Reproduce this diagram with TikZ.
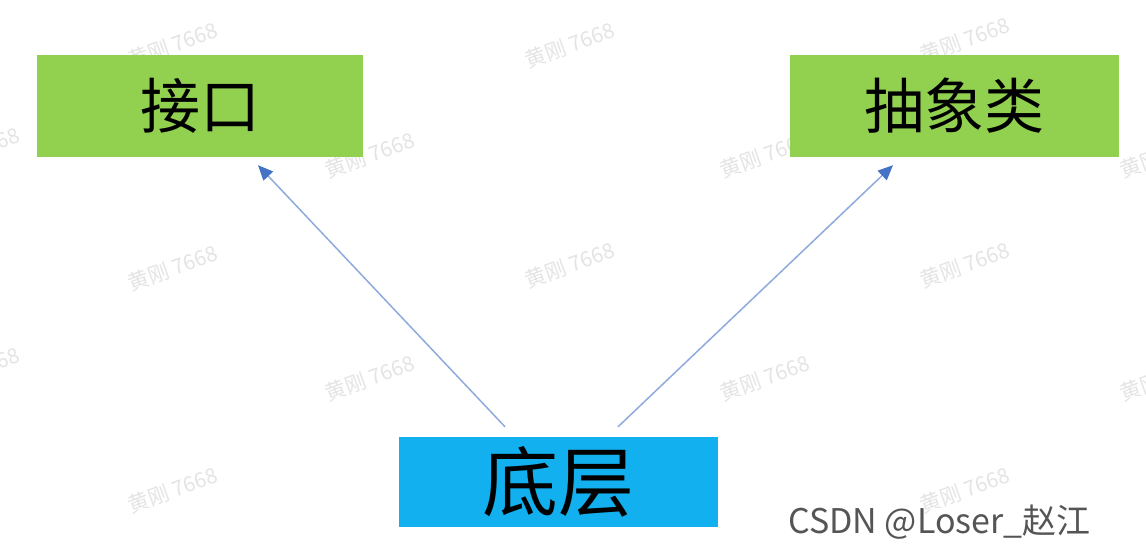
\documentclass[tikz,border=0pt]{standalone}
\usepackage{fontspec}
\newfontfamily\cjk{Noto Sans CJK SC}
\usetikzlibrary{arrows.meta}
\definecolor{boxgreen}{HTML}{92D050}
\definecolor{boxblue}{HTML}{12B0EE}
\definecolor{lineblue}{HTML}{8FAADC}
\definecolor{headblue}{HTML}{4472C4}
\definecolor{wmgrey}{HTML}{E4E4E4}
\definecolor{sig}{HTML}{555555}
\tikzset{
  box/.style={inner sep=0pt, text=black, font=\cjk\fontsize{60}{62}\selectfont},
  link/.style={draw=lineblue, line width=1.5pt, -{Triangle[length=15pt,width=13pt,color=headblue]}},
  wm/.style={text=wmgrey, font=\cjk\fontsize{21}{23}\selectfont, rotate=20, inner sep=0pt},
}
\begin{document}
\begin{tikzpicture}[x=1pt,y=-1pt]
\useasboundingbox (0,0) rectangle (1146,556);
\fill[white] (0,0) rectangle (1146,556);
% watermarks
\foreach \x/\y [count=\i] in {173/45,570/45,965/40,173/268,570/265,965/265,173/490,570/490,965/490,
  -25/150,370/155,765/155,1165/155,-25/370,370/378,765/378,1165/378}
  \node[wm] (wm\i) at (\x,\y) {黄刚 7668};
\node[box, fill=boxgreen, minimum width=326pt, minimum height=102pt] (iface) at (200,106) {接口};
\node[box, fill=boxgreen, minimum width=329pt, minimum height=102pt] (abs) at (954.5,106) {抽象类};
\node[box, fill=boxblue, minimum width=319pt, minimum height=90pt, font=\cjk\fontsize{76}{78}\selectfont] (base) at (558.5,482) {底层};
\draw[link] ([xshift=-53.5pt,yshift=10pt]base.north) -- ([xshift=58pt,yshift=-8pt]iface.south);
\draw[link] ([xshift=59.5pt,yshift=10pt]base.north) -- ([xshift=-61.5pt,yshift=-8pt]abs.south);
\node[text=sig, font=\cjk\fontsize{34}{36}\selectfont, anchor=west, inner sep=0pt] (sign) at (788,522) {CSDN @Loser\_赵江};
\end{tikzpicture}
\end{document}
